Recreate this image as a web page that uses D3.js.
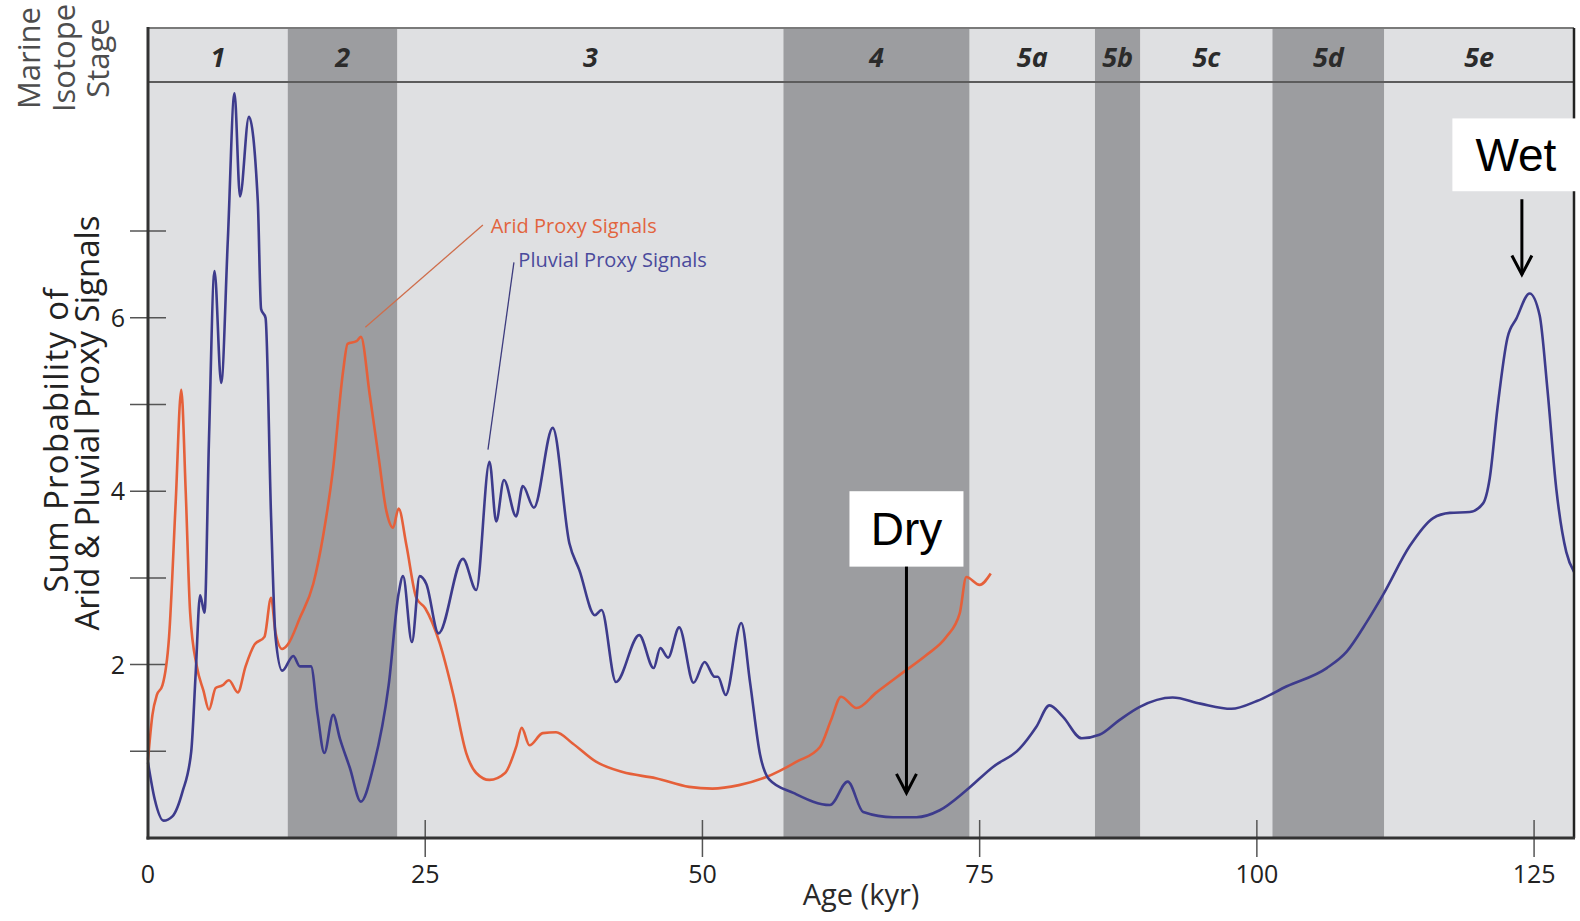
<!DOCTYPE html>
<html>
<head>
<meta charset="utf-8">
<script src="https://cdn.jsdelivr.net/npm/d3@7"></script>
<style>
  body { margin: 0; background: #fff; }
  text { font-family: "Open Sans", "Noto Sans", sans-serif; }
</style>
</head>
<body>
<script>
// Marine isotope stages (kyr)
var stageNames  = ["1", "2", "3", "4", "5a", "5b", "5c", "5d", "5e"];
var stageStarts = [0, 12.6, 22.5, 57.3, 74.1, 85.4, 89.5, 101.4, 111.5];
var stageEnds   = [12.6, 22.5, 57.3, 74.1, 85.4, 89.5, 101.4, 111.5, 128.6];

// Pluvial proxy signals: age (kyr) and sum probability
var pluvialAge = [0, 0.6, 1.4, 2.2, 3.1, 3.9, 4.3, 4.7, 5.1, 5.5, 6.0, 6.6, 7.2, 7.8, 8.3, 9.1, 9.9, 10.2, 10.6, 11.1,
  11.5, 12.1, 13.1, 13.7, 14.7, 15.3, 15.9, 16.7, 17.3, 18.2, 19.2, 20.3, 21.7, 22.6, 23.0, 23.8, 24.5, 25.1, 26.2,
  28.4, 29.6, 30.8, 31.4, 32.1, 33.2, 33.8, 34.8, 36.5, 38.0, 38.9, 40.3, 40.9, 42.2, 44.3, 45.6, 46.2, 46.9, 47.9,
  49.2, 50.2, 51.1, 51.4, 52.1, 53.5, 54.3, 55.2, 56.0, 58.2, 61.5, 63.1, 64.5, 67.2, 69.3, 71.4, 73.8, 76.2, 78.6,
  80.1, 81.3, 82.5, 84.2, 85.8, 87.6, 89.4, 92.4, 94.9, 97.7, 100.0, 102.7, 106.3, 108.1, 109.9, 111.4, 113.8, 115.9,
  117.4, 119.2, 120.4, 121.0, 121.7, 122.6, 123.4, 124.6, 125.5, 126.2, 127.0, 127.9, 128.6];
var pluvialVal = [0.87, 0.45, 0.2, 0.25, 0.53, 1.0, 1.9, 2.8, 2.6, 4.6, 6.54, 5.25, 6.9, 8.59, 7.4, 8.32, 7.35, 6.1, 6.0, 3.7,
  2.32, 1.93, 2.1, 1.98, 1.98, 1.42, 0.98, 1.42, 1.15, 0.81, 0.42, 0.81, 1.76, 2.82, 3.02, 2.26, 3.02, 2.93, 2.36,
  3.22, 2.86, 4.34, 3.65, 4.13, 3.71, 4.06, 3.81, 4.73, 3.40, 3.09, 2.57, 2.63, 1.80, 2.34, 1.96, 2.19, 2.08, 2.43,
  1.79, 2.03, 1.86, 1.86, 1.65, 2.48, 1.79, 0.96, 0.68, 0.52, 0.38, 0.65, 0.30, 0.24, 0.24, 0.32, 0.55, 0.82, 1.03,
  1.28, 1.53, 1.40, 1.15, 1.19, 1.36, 1.51, 1.62, 1.55, 1.49, 1.58, 1.75, 1.96, 2.15, 2.49, 2.81, 3.37, 3.69,
  3.75, 3.76, 3.86, 4.15, 4.96, 5.77, 5.99, 6.28, 6.03, 5.18, 4.03, 3.30, 3.07];

// Arid proxy signals
var aridAge = [0, 0.4, 0.8, 1.3, 1.9, 2.5, 3.0, 3.4, 3.8, 4.4, 5.0, 5.5, 6.1, 6.7, 7.3, 8.1, 8.8, 9.6, 10.5, 11.1,
  11.5, 12.1, 12.6, 13.7, 14.9, 15.8, 16.7, 17.6, 18.0, 18.8, 19.2, 20.0, 20.8, 21.5, 22.1, 22.6, 23.3, 24.2, 25.0,
  26.3, 27.5, 28.7, 29.6, 30.8, 32.2, 33.2, 33.7, 34.4, 35.6, 36.8, 38.3, 40.4, 42.8, 45.8, 48.8, 50.9, 53.3, 55.7,
  58.5, 60.6, 61.6, 62.5, 63.9, 65.7, 68.1, 70.2, 72.0, 73.2, 73.8, 75.0, 76.0];
var aridVal = [0.9, 1.42, 1.65, 1.76, 2.32, 3.88, 5.17, 4.0, 2.6, 1.98, 1.7, 1.48, 1.73, 1.76, 1.82, 1.68, 1.98, 2.23, 2.32, 2.77,
  2.37, 2.18, 2.23, 2.54, 2.93, 3.49, 4.27, 5.39, 5.7, 5.73, 5.78, 5.11, 4.39, 3.77, 3.58, 3.80, 3.38, 2.77, 2.65,
  2.25, 1.67, 0.98, 0.75, 0.67, 0.75, 1.05, 1.27, 1.07, 1.21, 1.22, 1.09, 0.88, 0.76, 0.69, 0.59, 0.57, 0.61, 0.70,
  0.88, 1.05, 1.36, 1.63, 1.50, 1.68, 1.91, 2.11, 2.32, 2.59, 3.01, 2.92, 3.05];

var xTicks = [0, 25, 50, 75, 100, 125];
var yTicks = [1, 2, 3, 4, 5, 6, 7];
var yLabels = [2, 4, 6];

var width = 1580, height = 921;
var margin = {top: 28, right: 6, bottom: 83, left: 148};
var headerH = 54;

var svg = d3.select("body").append("svg")
    .attr("width", width)
    .attr("height", height);

var x = d3.scaleLinear()
    .domain([0, 128.6])
    .range([margin.left, width - margin.right]);

var y = d3.scaleLinear()
    .domain([0, 8.72])
    .range([height - margin.bottom, margin.top + headerH]);

var plotTop = margin.top, plotBottom = height - margin.bottom;

// stage bands (through header and plot)
var stages = stageNames.map(function(n, i) {
  return {name: n, start: stageStarts[i], end: stageEnds[i], dark: i % 2 === 1};
});

svg.selectAll(".band")
    .data(stages)
    .enter().append("rect")
    .attr("class", "band")
    .attr("x", function(d) { return x(d.start); })
    .attr("width", function(d) { return x(d.end) - x(d.start); })
    .attr("y", plotTop)
    .attr("height", plotBottom - plotTop)
    .attr("fill", function(d) { return d.dark ? "#9c9da0" : "#dfe0e2"; });

// header line and stage labels
svg.append("line")
    .attr("x1", x(0)).attr("x2", x(128.6))
    .attr("y1", plotTop + headerH).attr("y2", plotTop + headerH)
    .attr("stroke", "#5c5c5c").attr("stroke-width", 2);

svg.selectAll(".stage")
    .data(stages)
    .enter().append("text")
    .attr("class", "stage")
    .attr("x", function(d) { return x((d.start + d.end) / 2); })
    .attr("y", plotTop + 39)
    .attr("text-anchor", "middle")
    .style("font-size", "27px")
    .style("font-weight", "bold")
    .style("font-style", "italic")
    .attr("fill", "#2b2b2b")
    .text(function(d) { return d.name; });

// axis ticks (crossing the frame)
svg.selectAll(".ytick")
    .data(yTicks)
    .enter().append("line")
    .attr("x1", margin.left - 18).attr("x2", margin.left + 18)
    .attr("y1", function(d) { return y(d); })
    .attr("y2", function(d) { return y(d); })
    .attr("stroke", "#555").attr("stroke-width", 1.5);

svg.selectAll(".ylab")
    .data(yLabels)
    .enter().append("text")
    .attr("x", margin.left - 23)
    .attr("y", function(d) { return y(d); })
    .attr("dy", "0.36em")
    .attr("text-anchor", "end")
    .style("font-size", "25px")
    .attr("fill", "#222")
    .text(function(d) { return d; });

svg.selectAll(".xtick")
    .data(xTicks.filter(function(d) { return d > 0; }))
    .enter().append("line")
    .attr("x1", function(d) { return x(d); })
    .attr("x2", function(d) { return x(d); })
    .attr("y1", plotBottom - 18).attr("y2", plotBottom + 19)
    .attr("stroke", "#555").attr("stroke-width", 1.5);

svg.selectAll(".xlab")
    .data(xTicks)
    .enter().append("text")
    .attr("x", function(d) { return x(d); })
    .attr("y", plotBottom + 45)
    .attr("text-anchor", "middle")
    .style("font-size", "25px")
    .attr("fill", "#222")
    .text(function(d) { return d; });

// curves
var line = d3.line()
    .x(function(d) { return x(d[0]); })
    .y(function(d) { return y(d[1]); })
    .curve(d3.curveMonotoneX);

var arid = aridAge.map(function(a, i) { return [a, aridVal[i]]; });
var pluvial = pluvialAge.map(function(a, i) { return [a, pluvialVal[i]]; });

svg.append("path")
    .datum(arid)
    .attr("d", line)
    .attr("fill", "none")
    .attr("stroke", "#e5603a")
    .attr("stroke-width", 2.6);

svg.append("path")
    .datum(pluvial)
    .attr("d", line)
    .attr("fill", "none")
    .attr("stroke", "#3d3b8c")
    .attr("stroke-width", 2.6);

// series labels with leader lines
svg.append("line")
    .attr("x1", x(19.6)).attr("y1", y(5.89))
    .attr("x2", x(30.2)).attr("y2", y(7.07))
    .attr("stroke", "#cf6e4c").attr("stroke-width", 1.3);
svg.append("text")
    .attr("x", x(30.9)).attr("y", y(6.98))
    .style("font-size", "20px")
    .attr("fill", "#e2643e")
    .text("Arid Proxy Signals");

svg.append("line")
    .attr("x1", x(33.0)).attr("y1", y(6.64))
    .attr("x2", x(30.66)).attr("y2", y(4.48))
    .attr("stroke", "#3d3b7e").attr("stroke-width", 1.3);
svg.append("text")
    .attr("x", x(33.4)).attr("y", y(6.59))
    .style("font-size", "20px")
    .attr("fill", "#4a4a9c")
    .text("Pluvial Proxy Signals");

// frame
svg.append("line").attr("x1", x(0)).attr("x2", x(128.6)).attr("y1", plotTop).attr("y2", plotTop)
    .attr("stroke", "#7a7a7a").attr("stroke-width", 2);
svg.append("line").attr("x1", x(128.6)).attr("x2", x(128.6)).attr("y1", plotTop).attr("y2", plotBottom)
    .attr("stroke", "#222").attr("stroke-width", 2.5);
svg.append("line").attr("x1", x(0)).attr("x2", x(0)).attr("y1", plotTop - 1).attr("y2", plotBottom + 1.5)
    .attr("stroke", "#333").attr("stroke-width", 3);
svg.append("line").attr("x1", x(0) - 1.5).attr("x2", x(128.6) + 1).attr("y1", plotBottom).attr("y2", plotBottom)
    .attr("stroke", "#333").attr("stroke-width", 3);

// axis titles
svg.append("text")
    .attr("transform", "translate(" + x(64.3) + "," + (plotBottom + 67) + ")")
    .attr("text-anchor", "middle")
    .style("font-size", "29px")
    .attr("fill", "#2a2a2a")
    .text("Age (kyr)");

var yTitle = ["Sum Probability of", "Arid & Pluvial Proxy Signals"];
var yTitleX = [68, 99];
var yTitleC = [440, 423];
var yTitleSpacing = [1.3, 0];
yTitle.forEach(function(t, i) {
  svg.append("text")
      .attr("transform", "translate(" + yTitleX[i] + "," + yTitleC[i] + ") rotate(-90)")
      .attr("text-anchor", "middle")
      .style("font-size", "33px")
      .style("letter-spacing", yTitleSpacing[i] + "px")
      .attr("fill", "#222")
      .text(t);
});

var misTitle = ["Marine", "Isotope", "Stage"];
var misX = [40, 75, 109];
misTitle.forEach(function(t, i) {
  svg.append("text")
      .attr("transform", "translate(" + misX[i] + ",58) rotate(-90)")
      .attr("text-anchor", "middle")
      .style("font-size", "31px")
      .attr("fill", "#4d4d4d")
      .text(t);
});

// Dry / Wet callouts
var callouts = [
  {label: "Dry", age: 68.4, boxTop: 4.0, boxBottom: 3.13, tip: 0.52, w: 114, dx: 0},
  {label: "Wet", age: 123.9, boxTop: 8.3, boxBottom: 7.46, tip: 6.5, w: 127, dx: -6}
];
callouts.forEach(function(c) {
  var cx = x(c.age);
  svg.append("rect")
      .attr("x", cx + c.dx - c.w / 2)
      .attr("y", y(c.boxTop))
      .attr("width", c.w)
      .attr("height", y(c.boxBottom) - y(c.boxTop))
      .attr("fill", "#fff");
  svg.append("text")
      .attr("x", cx + c.dx)
      .attr("y", (y(c.boxTop) + y(c.boxBottom)) / 2)
      .attr("dy", "0.36em")
      .attr("text-anchor", "middle")
      .style("font-family", "'Liberation Sans', Arial, sans-serif")
      .style("font-size", "46px")
      .attr("fill", "#000")
      .text(c.label);
  var y0 = y(c.boxBottom) + (c.label === "Wet" ? 8 : 0), y1 = y(c.tip);
  svg.append("line")
      .attr("x1", cx).attr("x2", cx).attr("y1", y0).attr("y2", y1)
      .attr("stroke", "#000").attr("stroke-width", 3);
  svg.append("path")
      .attr("d", "M" + (cx - 10) + "," + (y1 - 19) + "L" + cx + "," + y1 + "L" + (cx + 10) + "," + (y1 - 19))
      .attr("fill", "none")
      .attr("stroke", "#000").attr("stroke-width", 3);
});
</script>
</body>
</html>
